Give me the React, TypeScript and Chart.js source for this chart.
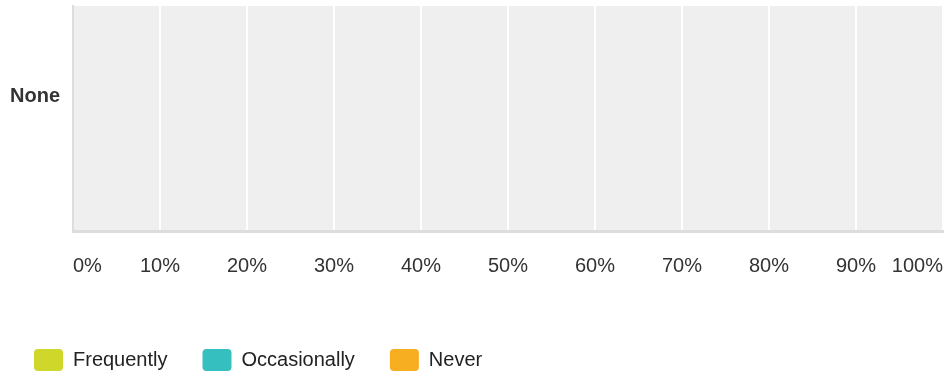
import React, { useEffect, useRef } from 'react';
import { Chart, registerables } from 'chart.js';

Chart.register(...registerables);

const categories = ['None'];
const seriesNames = ['Frequently', 'Occasionally', 'Never'];
const frequently = [0];
const occasionally = [0];
const never = [0];
const seriesColors = ['#cfd72b', '#36bfbf', '#f8ae21'];
const xMin = 0;
const xMax = 100;
const xStep = 10;

const FONT = "Arial, 'Liberation Sans', Helvetica, sans-serif";

const plotBg = {
  id: 'plotBg',
  beforeDraw(chart: any) {
    const { ctx, chartArea } = chart;
    if (!chartArea) return;
    ctx.save();
    ctx.fillStyle = '#efefef';
    ctx.fillRect(chartArea.left, chartArea.top, chartArea.right - chartArea.left, chartArea.bottom - chartArea.top);
    ctx.restore();
  },
};

export default function App() {
  const ref = useRef<HTMLCanvasElement | null>(null);

  useEffect(() => {
    if (!ref.current) return;
    const values = [frequently, occasionally, never];
    const chart = new Chart(ref.current, {
      type: 'bar',
      data: {
        labels: categories,
        datasets: seriesNames.map((name, i) => ({
          label: name,
          data: values[i],
          backgroundColor: seriesColors[i],
          borderWidth: 0,
        })),
      },
      options: {
        indexAxis: 'y',
        animation: false,
        responsive: true,
        maintainAspectRatio: false,
        layout: { padding: { top: 6, right: 5, left: 0, bottom: 0 } },
        plugins: {
          legend: {
            position: 'bottom',
            align: 'start',
            labels: {
              boxWidth: 29,
              boxHeight: 22,
              useBorderRadius: true,
              borderRadius: 4,
              padding: 35,
              color: '#222',
              font: { family: FONT, size: 20 },
            },
          },
          tooltip: { enabled: false },
        },
        scales: {
          x: {
            type: 'linear',
            stacked: true,
            min: xMin,
            max: xMax,
            grid: { color: '#ffffff', lineWidth: 2, drawTicks: false },
            border: { display: true, color: '#dddddd', width: 3 },
            ticks: {
              stepSize: xStep,
              align: 'inner',
              padding: 23,
              color: '#333',
              font: { family: FONT, size: 20 },
              callback: (v: any) => v + '%',
            },
            afterFit: (s: any) => {
              s.height = 83;
              s.paddingLeft = 0;
              s.paddingRight = 0;
            },
          },
          y: {
            type: 'category',
            stacked: true,
            grid: { display: false, drawTicks: false },
            border: { display: true, color: '#dddddd', width: 2 },
            ticks: {
              padding: 13,
              color: '#333',
              font: { family: FONT, size: 20, weight: 'bold', lineHeight: 1.1 },
              callback: function (this: any, v: any) {
                return [this.getLabelForValue(v), '', ''];
              },
            },
            afterFit: (s: any) => {
              s.width = 74;
              s.paddingTop = 0;
              s.paddingBottom = 0;
            },
          },
        },
      },
      plugins: [plotBg],
    } as any);
    return () => chart.destroy();
  }, []);

  return (
    <div style={{ position: 'fixed', left: -1, top: 0, width: 949, height: 381 }}>
      <canvas ref={ref} />
    </div>
  );
}
